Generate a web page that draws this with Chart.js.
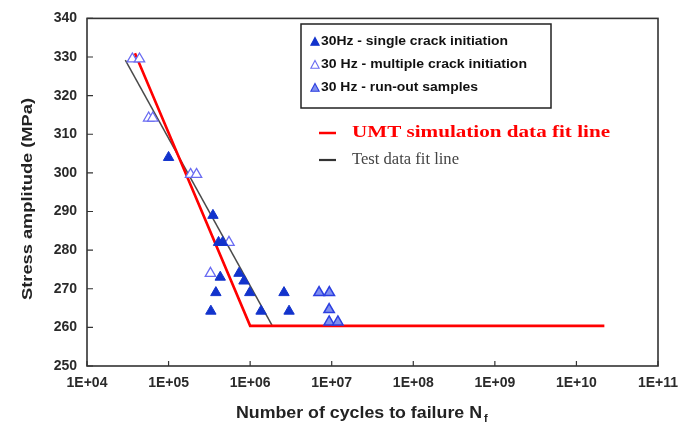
<!DOCTYPE html>
<html>
<head>
<meta charset="utf-8">
<script src="https://cdn.jsdelivr.net/npm/chart.js@4.4.1/dist/chart.umd.min.js"></script>
<style>
  body { margin: 0; background: #fff; }
  canvas { display: block; }
</style>
</head>
<body>
<canvas id="snChart" width="688" height="429"></canvas>
<script>
// ---- data ----
var xTickVals = [1e4, 1e5, 1e6, 1e7, 1e8, 1e9, 1e10, 1e11];
var xTickLabels = ["1E+04", "1E+05", "1E+06", "1E+07", "1E+08", "1E+09", "1E+10", "1E+11"];
var yTickLabels = [250, 260, 270, 280, 290, 300, 310, 320, 330, 340];

// 30Hz - single crack initiation (filled)
var singleN = [1.0e5, 3.5e5, 4.1e5, 4.6e5, 4.3e5, 3.8e5, 3.3e5, 7.3e5, 8.4e5, 9.9e5, 1.36e6, 2.6e6, 3.0e6];
var singleS = [304, 289, 282, 282, 273, 269, 264.2, 274, 272, 269, 264.2, 269, 264.2];

// 30 Hz - multiple crack initiation (open)
var multiN = [3.6e4, 4.4e4, 5.7e4, 6.4e4, 1.86e5, 2.2e5, 5.5e5, 3.26e5];
var multiS = [329.5, 329.5, 314.2, 314.2, 299.6, 299.6, 282, 274];

// 30 Hz - run-out samples
var runN = [7.0e6, 9.35e6, 9.3e6, 9.3e6, 1.19e7];
var runS = [269, 269, 264.6, 261.4, 261.4];

// fit lines
var umtN = [3.87e4, 1.0e6, 2.2e10];
var umtS = [331, 260.4, 260.4];
var testN = [2.95e4, 1.85e6];
var testS = [329.2, 260.6];

function pts(xs, ys) {
    return xs.map(function(x, i) { return { x: x, y: ys[i] }; });
}

var sansFam = "'Liberation Sans', Arial, sans-serif";
var serifFam = "'Liberation Serif', 'Times New Roman', serif";

// draws text stretched along its direction so it fills a given width
function fitText(c, text, x, y, font, width) {
    c.save();
    c.font = font;
    var w = c.measureText(text).width;
    c.translate(x, y);
    c.scale(width / w, 1);
    c.textAlign = 'left';
    c.fillText(text, 0, 0);
    c.restore();
}

var decorPlugin = {
    id: 'decor',
    afterDraw: function(chart) {
        var c = chart.ctx, a = chart.chartArea;
        var xs = chart.scales.x, ys = chart.scales.y;
        c.save();
        // frame
        c.strokeStyle = '#333';
        c.lineWidth = 1.6;
        c.strokeRect(a.left, a.top, a.right - a.left, a.bottom - a.top);
        // inward ticks
        c.lineWidth = 1.2;
        c.beginPath();
        yTickLabels.forEach(function(v) {
            var py = ys.getPixelForValue(v);
            c.moveTo(a.left, py); c.lineTo(a.left + 6, py);
        });
        xTickVals.forEach(function(v) {
            var px = xs.getPixelForValue(v);
            c.moveTo(px, a.bottom); c.lineTo(px, a.bottom - 5);
        });
        c.stroke();

        // x title with subscript f
        c.fillStyle = '#222';
        c.textBaseline = 'alphabetic';
        fitText(c, 'Number of cycles to failure N', 236, 418, 'bold 16px ' + sansFam, 246);
        c.font = 'bold 11px ' + sansFam;
        c.fillText('f', 484, 422);

        // y title, rotated
        c.save();
        c.translate(32, 300);
        c.rotate(-Math.PI / 2);
        c.textBaseline = 'alphabetic';
        fitText(c, 'Stress amplitude (MPa)', 0, 0, 'bold 15px ' + sansFam, 202);
        c.restore();

        // legend box
        c.strokeStyle = '#222';
        c.lineWidth = 1.5;
        c.fillStyle = '#fff';
        c.fillRect(301, 24, 250, 84);
        c.strokeRect(301, 24, 250, 84);
        var ds = chart.data.datasets;
        var widths = [187, 206, 157];
        [0, 1, 2].forEach(function(di, i) {
            var y = 42 + i * 23;
            var d = ds[di];
            var r = 4.6;
            c.beginPath();
            c.moveTo(315, y - r);
            c.lineTo(315 + r * 0.9, y + r * 0.7);
            c.lineTo(315 - r * 0.9, y + r * 0.7);
            c.closePath();
            c.lineWidth = 1.1;
            c.fillStyle = d.backgroundColor;
            c.strokeStyle = d.borderColor;
            c.fill(); c.stroke();
            c.fillStyle = '#111';
            c.textBaseline = 'middle';
            fitText(c, d.label, 321, y, 'bold 12px ' + sansFam, widths[i]);
        });
        // fit line legend
        c.lineWidth = 2.5;
        c.strokeStyle = '#ff0000';
        c.beginPath(); c.moveTo(319, 133); c.lineTo(336, 133); c.stroke();
        c.lineWidth = 2.2;
        c.strokeStyle = '#333';
        c.beginPath(); c.moveTo(319, 160); c.lineTo(336, 160); c.stroke();
        c.textBaseline = 'middle';
        c.fillStyle = '#ff0000';
        fitText(c, ds[3].label, 352, 133, 'bold 17px ' + serifFam, 258);
        c.fillStyle = '#444';
        fitText(c, ds[4].label, 352, 160, '16px ' + serifFam, 107);
        c.restore();
    }
};

var ctx = document.getElementById('snChart');
var snChart = new Chart(ctx.getContext('2d'), {
    type: 'scatter',
    data: {
        datasets: [{
            label: '30Hz - single crack initiation',
            data: pts(singleN, singleS),
            pointStyle: 'triangle',
            backgroundColor: '#1233cc',
            borderColor: '#1233cc',
            pointRadius: 6,
            borderWidth: 1,
            order: 1
        }, {
            label: '30 Hz - multiple crack initiation',
            data: pts(multiN, multiS),
            pointStyle: 'triangle',
            backgroundColor: '#ffffff',
            borderColor: '#6a6cf2',
            pointRadius: 6,
            borderWidth: 1.3,
            order: 1
        }, {
            label: '30 Hz - run-out samples',
            data: pts(runN, runS),
            pointStyle: 'triangle',
            backgroundColor: '#7f8ff0',
            borderColor: '#2c3fe0',
            pointRadius: 6,
            borderWidth: 1.5,
            order: 1
        }, {
            label: 'UMT simulation data fit line',
            data: pts(umtN, umtS),
            showLine: true,
            borderColor: '#ff0000',
            borderWidth: 2.6,
            pointRadius: 0,
            fill: false,
            order: 2
        }, {
            label: 'Test data fit line',
            data: pts(testN, testS),
            showLine: true,
            borderColor: '#4a4a4a',
            borderWidth: 1.5,
            pointRadius: 0,
            fill: false,
            order: 3
        }]
    },
    options: {
        responsive: false,
        animation: false,
        layout: {
            padding: { left: 0, right: 30, top: 17, bottom: 0 }
        },
        scales: {
            x: {
                type: 'logarithmic',
                min: 1e4,
                max: 1e11,
                afterBuildTicks: function(scale) {
                    scale.ticks = xTickVals.map(function(v) { return { value: v }; });
                },
                afterFit: function(scale) { scale.height = 63; },
                grid: { display: false, drawTicks: false },
                border: { display: false },
                ticks: {
                    autoSkip: false,
                    maxRotation: 0,
                    padding: 9,
                    color: '#2a2a2a',
                    font: { family: sansFam, size: 14, weight: 'bold' },
                    callback: function(value, index) {
                        return xTickLabels[index];
                    }
                }
            },
            y: {
                min: 250,
                max: 340,
                afterBuildTicks: function(scale) {
                    scale.ticks = yTickLabels.map(function(v) { return { value: v }; });
                },
                afterFit: function(scale) { scale.width = 87; },
                grid: { display: false, drawTicks: false },
                border: { display: false },
                ticks: {
                    padding: 10,
                    color: '#2a2a2a',
                    font: { family: sansFam, size: 14, weight: 'bold' }
                }
            }
        },
        plugins: {
            legend: { display: false },
            tooltip: { enabled: false }
        }
    },
    plugins: [decorPlugin]
});
</script>
</body>
</html>
